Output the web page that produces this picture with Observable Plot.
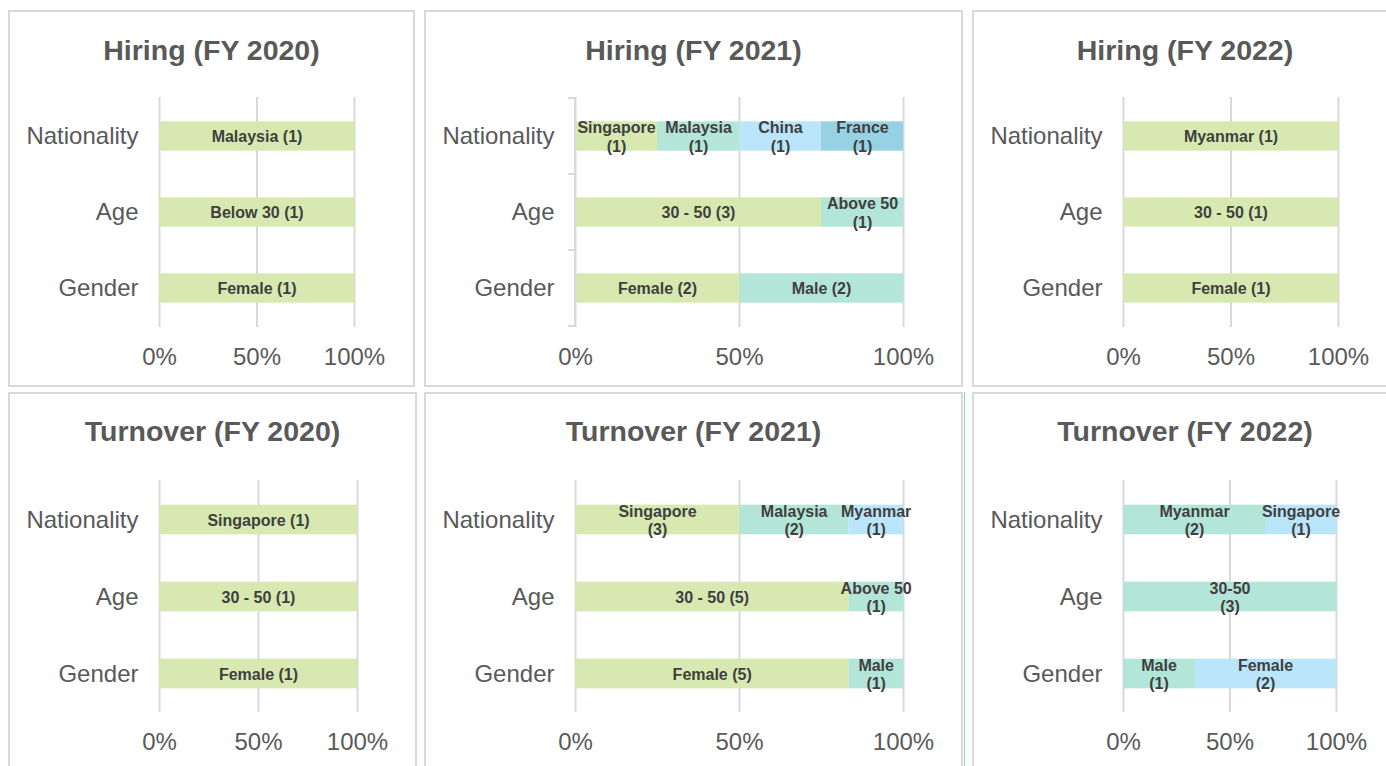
<!DOCTYPE html>
<html>
<head>
<meta charset="utf-8">
<script src="https://cdn.jsdelivr.net/npm/d3@7"></script>
<script src="https://cdn.jsdelivr.net/npm/@observablehq/plot@0.6"></script>
<style>
  html, body { margin: 0; padding: 0; background: #ffffff; }
  #page { position: relative; width: 1386px; height: 766px; overflow: hidden; background: #fff;
          font-family: "Liberation Sans", Arial, sans-serif; }
  .panel { position: absolute; box-sizing: border-box; border: 2px solid #d9d9d9; }
  .title { position: absolute; text-align: center; font-weight: bold; font-size: 28.5px; line-height: 28px;
           color: #595959; white-space: nowrap; }
  .plot { position: absolute; }
</style>
</head>
<body>
<div id="page"></div>
<script>
// ---------------- DATA ----------------
const categories = ["Nationality", "Age", "Gender"];
const titles = ["Hiring (FY 2020)", "Hiring (FY 2021)", "Hiring (FY 2022)",
                "Turnover (FY 2020)", "Turnover (FY 2021)", "Turnover (FY 2022)"];
const tickValues = [0, 0.5, 1];
const seriesIds = [1, 2, 3, 4];

const hiring2020 = [
  {cat: "Nationality", name: "Malaysia", n: 1, series: 1, wrap: false},
  {cat: "Age", name: "Below 30", n: 1, series: 1, wrap: false},
  {cat: "Gender", name: "Female", n: 1, series: 1, wrap: false}
];
const hiring2021 = [
  {cat: "Nationality", name: "Singapore", n: 1, series: 1, wrap: true},
  {cat: "Nationality", name: "Malaysia", n: 1, series: 2, wrap: true},
  {cat: "Nationality", name: "China", n: 1, series: 3, wrap: true},
  {cat: "Nationality", name: "France", n: 1, series: 4, wrap: true},
  {cat: "Age", name: "30 - 50", n: 3, series: 1, wrap: false},
  {cat: "Age", name: "Above 50", n: 1, series: 2, wrap: true},
  {cat: "Gender", name: "Female", n: 2, series: 1, wrap: false},
  {cat: "Gender", name: "Male", n: 2, series: 2, wrap: false}
];
const hiring2022 = [
  {cat: "Nationality", name: "Myanmar", n: 1, series: 1, wrap: false},
  {cat: "Age", name: "30 - 50", n: 1, series: 1, wrap: false},
  {cat: "Gender", name: "Female", n: 1, series: 1, wrap: false}
];
const turnover2020 = [
  {cat: "Nationality", name: "Singapore", n: 1, series: 1, wrap: false},
  {cat: "Age", name: "30 - 50", n: 1, series: 1, wrap: false},
  {cat: "Gender", name: "Female", n: 1, series: 1, wrap: false}
];
const turnover2021 = [
  {cat: "Nationality", name: "Singapore", n: 3, series: 1, wrap: true},
  {cat: "Nationality", name: "Malaysia", n: 2, series: 2, wrap: true},
  {cat: "Nationality", name: "Myanmar", n: 1, series: 3, wrap: true},
  {cat: "Age", name: "30 - 50", n: 5, series: 1, wrap: false},
  {cat: "Age", name: "Above 50", n: 1, series: 2, wrap: true},
  {cat: "Gender", name: "Female", n: 5, series: 1, wrap: false},
  {cat: "Gender", name: "Male", n: 1, series: 2, wrap: true}
];
const turnover2022 = [
  {cat: "Nationality", name: "Myanmar", n: 2, series: 2, wrap: true},
  {cat: "Nationality", name: "Singapore", n: 1, series: 3, wrap: true},
  {cat: "Age", name: "30-50", n: 3, series: 2, wrap: true},
  {cat: "Gender", name: "Male", n: 1, series: 2, wrap: true},
  {cat: "Gender", name: "Female", n: 2, series: 3, wrap: true}
];

// ---------------- STYLE / LAYOUT ----------------
const palette = ["#d7e9b0", "#b4e5d9", "#bae5fa", "#97d1e4"];
const BAR = 30;
const layout = [
  {data: hiring2020,   box: [8, 10, 415, 387],    x0: 159,  x1: 354,  yTop: 97,  yBot: 327, titleBase: 60,  yTicks: false},
  {data: hiring2021,   box: [424, 10, 963, 387],  x0: 575,  x1: 903,  yTop: 97,  yBot: 327, titleBase: 60,  yTicks: true},
  {data: hiring2022,   box: [972, 10, 1398, 387], x0: 1123, x1: 1338, yTop: 97,  yBot: 327, titleBase: 60,  yTicks: false},
  {data: turnover2020, box: [8, 392, 417, 790],   x0: 159,  x1: 357,  yTop: 480, yBot: 712, titleBase: 441, yTicks: false},
  {data: turnover2021, box: [424, 392, 963, 790], x0: 575,  x1: 903,  yTop: 480, yBot: 712, titleBase: 441, yTicks: false},
  {data: turnover2022, box: [972, 392, 1398, 790],x0: 1123, x1: 1336, yTop: 480, yBot: 712, titleBase: 441, yTicks: false}
];

const page = document.getElementById("page");
const label = d => d.name + (d.wrap ? "\n" : " ") + "(" + d.n + ")";

layout.forEach((L, i) => {
  const [bl, bt, br, bb] = L.box;
  const W = br - bl, H = Math.min(bb, 766 + 10) - bt;

  const panel = document.createElement("div");
  panel.className = "panel";
  Object.assign(panel.style, {left: bl + "px", top: bt + "px", width: W + "px", height: (bb - bt) + "px"});
  page.appendChild(panel);

  const t = document.createElement("div");
  t.className = "title";
  t.textContent = titles[i];
  Object.assign(t.style, {left: bl + "px", width: W + "px", top: (L.titleBase - 24) + "px"});
  page.appendChild(t);

  const step = (L.yBot - L.yTop) / categories.length;
  const inset = (step - BAR) / 2;

  const plot = Plot.plot({
    width: W,
    height: H,
    marginLeft: L.x0 - bl,
    marginRight: W - (L.x1 - bl),
    marginTop: L.yTop - bt,
    marginBottom: H - (L.yBot - bt),
    style: {fontFamily: "'Liberation Sans', Arial, sans-serif", fontSize: "24px", color: "#595959",
            background: "transparent", overflow: "visible"},
    x: {domain: [0, 1], ticks: tickValues, tickFormat: d3.format(".0%"), tickSize: 0, tickPadding: 20, label: null},
    y: {domain: categories, padding: 0, tickSize: 0, tickPadding: 21, label: null},
    color: {type: "ordinal", domain: seriesIds, range: palette},
    marks: [
      Plot.ruleX(tickValues, {stroke: "#d9d9d9", strokeWidth: 2}),
      Plot.barX(L.data, Plot.stackX({x: "n", y: "cat", fill: "series", offset: "normalize",
                                     insetTop: inset, insetBottom: inset})),
      Plot.text(L.data, Plot.stackX({x: "n", y: "cat", offset: "normalize", text: label,
                                     fontSize: 16, fontWeight: "bold", fill: "#404040", lineHeight: 1.15}))
    ]
  });
  plot.classList.add("plot");
  Object.assign(plot.style, {left: bl + "px", top: bt + "px"});
  page.appendChild(plot);

  if (L.yTicks) {
    const ys = plot.scale("y");
    const bounds = ys.domain.map(c => ys.apply(c));
    bounds.push(ys.apply(ys.domain[ys.domain.length - 1]) + ys.bandwidth);
    const xs = plot.scale("x");
    const ax = xs.apply(0);
    const g = d3.select(plot).append("g").attr("stroke", "#d9d9d9").attr("stroke-width", 2);
    g.append("line").attr("x1", ax).attr("x2", ax).attr("y1", bounds[0]).attr("y2", bounds[bounds.length - 1]);
    g.selectAll("line.tk").data(bounds).join("line").attr("class", "tk")
      .attr("x1", ax - 7).attr("x2", ax).attr("y1", d => d).attr("y2", d => d);
  }
});

// thin teal edge next to the Turnover (FY 2021) panel
const edge = document.createElement("div");
Object.assign(edge.style, {position: "absolute", left: "963.5px", top: "392px", width: "1.5px", height: "380px", background: "#86d8c3"});
page.appendChild(edge);
</script>
</body>
</html>
